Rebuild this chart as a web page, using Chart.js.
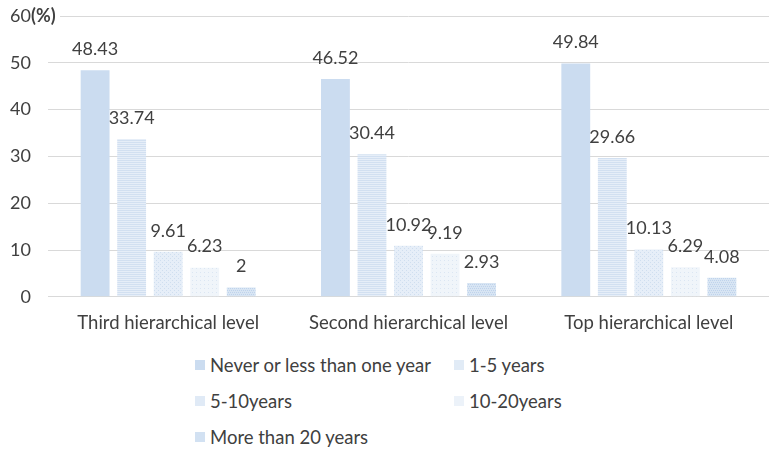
<!DOCTYPE html>
<html>
<head>
<meta charset="utf-8">
<script src="https://cdn.jsdelivr.net/npm/chart.js@4"></script>
<style>
  html, body { margin: 0; padding: 0; background: #fff; }
  #wrap { position: relative; width: 769px; height: 449px; overflow: hidden; }
  #box { position: absolute; left: 0; top: 0; width: 769px; height: 349px; }
  #legend { position: absolute; left: 195px; top: 353px; display: grid;
            grid-template-columns: 259px 160px; row-gap: 12px;
            font-family: Lato, "Open Sans", sans-serif; font-size: 18.5px; color: #404040; }
  .item { display: flex; align-items: center; height: 24px; white-space: nowrap; }
  .sw { width: 10px; height: 10px; margin-right: 5px; flex: none; }
</style>
</head>
<body>
<div id="wrap">
  <div id="box"><canvas id="c"></canvas></div>
  <div id="legend"></div>
</div>
<script>
// Share of respondents by years of experience, per hierarchical level (%)
const categories = ["Third hierarchical level", "Second hierarchical level", "Top hierarchical level"];
const seriesNames = ["Never or less than one year", "1-5 years", "5-10years", "10-20years", "More than 20 years"];
const neverOrLess = [48.43, 46.52, 49.84];
const oneToFive = [33.74, 30.44, 29.66];
const fiveToTen = [9.61, 10.92, 10.13];
const tenToTwenty = [6.23, 9.19, 6.29];
const moreThanTwenty = [2, 2.93, 4.08];
const yTicks = [0, 10, 20, 30, 40, 50, 60];

const seriesValues = [neverOrLess, oneToFive, fiveToTen, tenToTwenty, moreThanTwenty];
const baseColors = ["#cbdcf0", "#e1ebf6", "#e0eaf6", "#ecf2f9", "#d2e1f2"];

// Light fill patterns for the bars
function makePattern(base, ink, kind) {
  const p = document.createElement('canvas');
  p.width = 4; p.height = 4;
  const g = p.getContext('2d');
  g.fillStyle = base; g.fillRect(0, 0, 4, 4);
  g.fillStyle = ink;
  if (kind === 'hline') { g.fillRect(0, 0, 4, 1); g.fillRect(0, 2, 4, 1); }
  else if (kind === 'dots') { g.fillRect(0, 0, 1, 1); g.fillRect(2, 2, 1, 1); }
  else if (kind === 'sparse') { g.fillRect(0, 0, 1, 1); }
  else if (kind === 'dense') { g.fillRect(0, 0, 1, 1); g.fillRect(2, 0, 1, 1); g.fillRect(1, 2, 1, 1); g.fillRect(3, 2, 1, 1); }
  return document.createElement('canvas').getContext('2d').createPattern(p, 'repeat');
}
const fills = [
  baseColors[0],
  makePattern("#e6eef8", "#d2e0f1", 'hline'),
  makePattern("#e6eef8", "#cfdeef", 'dots'),
  makePattern("#f0f5fa", "#dbe6f3", 'sparse'),
  makePattern("#d8e5f3", "#bfd3ec", 'dense')
];

const FONT = "Lato, 'Open Sans', sans-serif";
const TEXT = "#404040";

const valueLabels = {
  id: 'valueLabels',
  afterDatasetsDraw(chart) {
    const ctx = chart.ctx;
    ctx.save();
    ctx.font = "18px " + FONT;
    ctx.fillStyle = TEXT;
    ctx.textAlign = 'center';
    ctx.textBaseline = 'middle';
    chart.data.datasets.forEach((ds, i) => {
      chart.getDatasetMeta(i).data.forEach((bar, j) => {
        ctx.fillText(String(ds.data[j]), bar.x, bar.y - 21);
      });
    });
    ctx.restore();
  }
};

const unitLabel = {
  id: 'unitLabel',
  afterDraw(chart) {
    const ctx = chart.ctx;
    const y = chart.scales.y.getPixelForValue(60);
    ctx.save();
    ctx.fillStyle = '#fff';
    ctx.fillRect(31, y - 10, 29, 20);
    ctx.font = "bold 18px " + FONT;
    ctx.fillStyle = TEXT;
    ctx.textAlign = 'left';
    ctx.textBaseline = 'middle';
    ctx.fillText("(%)", 31, y);
    ctx.restore();
  }
};

const chart = new Chart(document.getElementById('c'), {
  type: 'bar',
  data: {
    labels: categories,
    datasets: seriesNames.map((name, i) => ({
      label: name,
      data: seriesValues[i],
      backgroundColor: fills[i],
      borderWidth: 0,
      categoryPercentage: 0.76,
      barPercentage: 0.79
    }))
  },
  options: {
    responsive: true,
    maintainAspectRatio: false,
    animation: false,
    layout: { padding: { top: 16, right: 0, left: 0, bottom: 0 } },
    plugins: { legend: { display: false }, tooltip: { enabled: false } },
    scales: {
      x: {
        grid: { display: false, drawTicks: false },
        border: { display: false },
        ticks: { font: { family: FONT, size: 18.5 }, color: TEXT, padding: 15, maxRotation: 0 }
      },
      y: {
        min: 0, max: 60,
        afterBuildTicks(s) { s.ticks = yTicks.map(v => ({ value: v })); },
        afterFit(s) { s.width = 48; s.paddingTop = 0; s.paddingBottom = 0; },
        grid: { color: '#d9d9d9', lineWidth: 1, drawTicks: false },
        border: { display: false },
        ticks: { font: { family: FONT, size: 18 }, color: TEXT, padding: 17 }
      }
    }
  },
  plugins: [valueLabels, unitLabel]
});

// Legend in two columns beneath the chart
const legend = document.getElementById('legend');
seriesNames.forEach((name, i) => {
  const it = document.createElement('div');
  it.className = 'item';
  const sw = document.createElement('span');
  sw.className = 'sw';
  sw.style.background = baseColors[i];
  const tx = document.createElement('span');
  tx.textContent = name;
  it.appendChild(sw); it.appendChild(tx);
  legend.appendChild(it);
});
</script>
</body>
</html>
